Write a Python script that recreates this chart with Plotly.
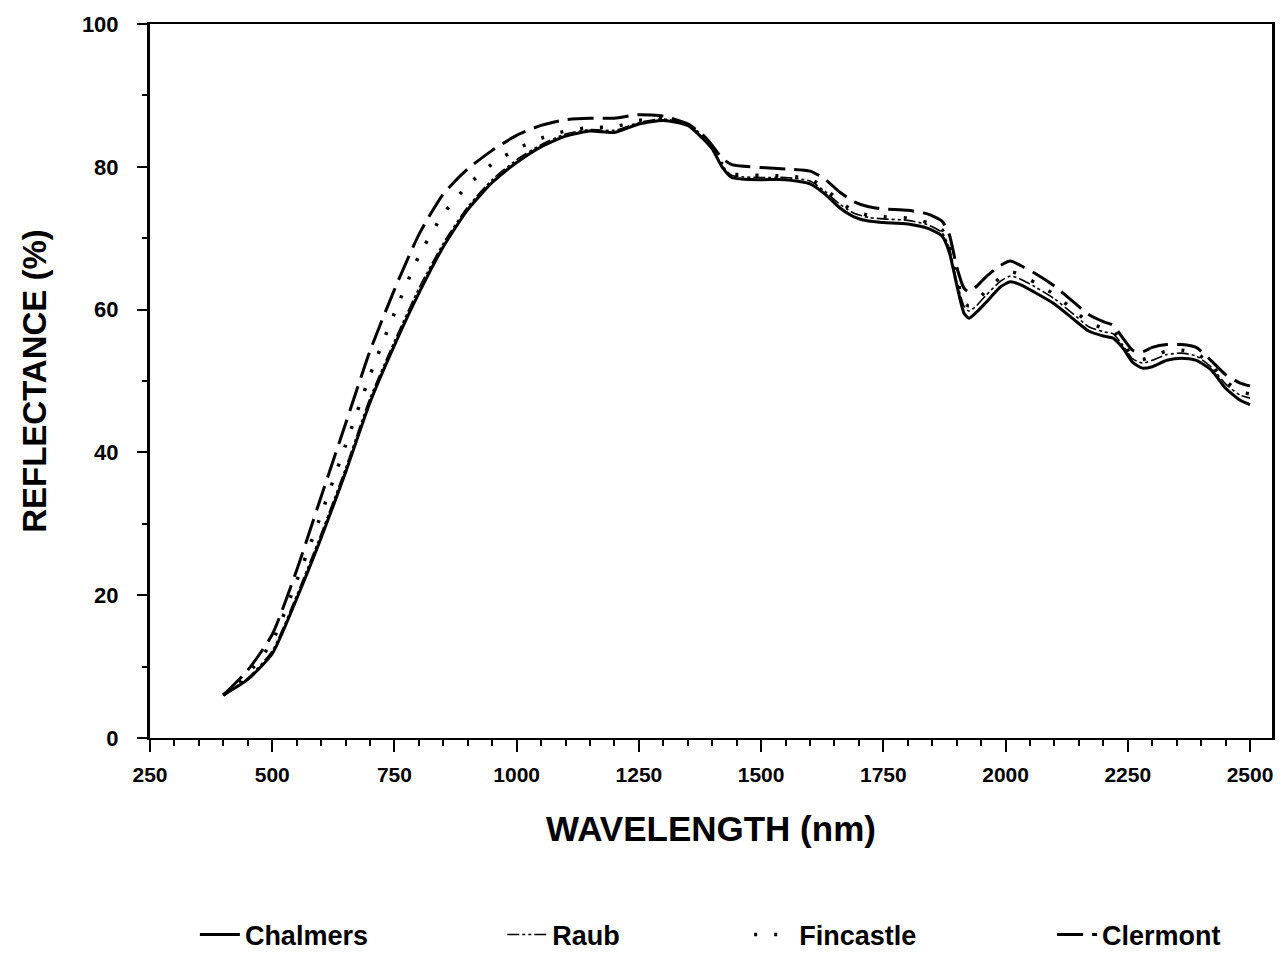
import plotly.graph_objects as go

wavelength = [400, 450, 500, 550, 600, 650, 700, 750, 800, 850, 900, 950, 1000, 1050, 1100,
              1150, 1200, 1250, 1300, 1350, 1380, 1400, 1420, 1440, 1460, 1500, 1550, 1600,
              1630, 1660, 1690, 1720, 1750, 1800, 1840, 1870, 1885, 1900, 1915, 1925, 1940,
              1960, 1990, 2010, 2030, 2060, 2100, 2140, 2170, 2200, 2220, 2240, 2260, 2280,
              2300, 2330, 2360, 2390, 2420, 2450, 2480, 2500]

chalmers = [6.0, 8.2, 11.8, 19.5, 28.0, 37.2, 47.0, 55.0, 62.3, 68.8, 74.0, 77.8, 80.6, 82.8, 84.3,
            85.0, 84.8, 86.0, 86.5, 85.8, 84.0, 82.5, 80.0, 78.5, 78.3, 78.2, 78.2, 77.6,
            76.2, 74.3, 73.0, 72.4, 72.2, 72.0, 71.4, 70.3, 68.0, 63.5, 59.5, 58.8, 59.6,
            61.0, 63.2, 63.9, 63.5, 62.4, 60.8, 58.6, 57.0, 56.3, 56.0, 54.6, 52.6, 51.8,
            52.0, 52.9, 53.2, 52.9, 51.6, 49.0, 47.3, 46.7]

raub = [6.0, 8.4, 12.2, 20.0, 28.6, 37.8, 47.6, 55.6, 63.0, 69.3, 74.4, 78.2, 81.0, 83.1, 84.6,
        85.2, 85.1, 86.2, 86.7, 85.9, 84.1, 82.6, 80.2, 78.8, 78.6, 78.5, 78.5, 78.0,
        76.6, 74.8, 73.5, 72.9, 72.7, 72.5, 71.9, 70.8, 68.6, 64.0, 60.5, 59.8, 60.5,
        62.0, 64.0, 64.7, 64.3, 63.2, 61.5, 59.3, 57.6, 56.9, 56.6, 55.0, 53.1, 52.5,
        52.9, 53.7, 53.9, 53.5, 52.0, 49.6, 48.0, 47.6]

fincastle = [6.0, 9.0, 13.5, 22.0, 31.3, 41.0, 50.8, 59.5, 67.5, 73.4, 77.4, 80.4, 82.5, 84.0, 85.0,
             85.5, 85.6, 86.5, 86.8, 85.9, 84.2, 82.7, 80.4, 79.0, 78.9, 78.8, 78.7, 78.3,
             77.0, 75.2, 73.8, 73.2, 73.0, 72.8, 72.2, 71.2, 69.0, 64.5, 61.0, 60.5, 61.2,
             62.6, 64.5, 65.3, 64.9, 63.8, 62.1, 59.9, 58.2, 57.4, 57.0, 55.3, 53.5, 53.0,
             53.5, 54.2, 54.3, 53.9, 52.3, 50.0, 48.5, 48.2]

clermont = [6.0, 9.5, 14.5, 23.5, 33.8, 44.0, 54.2, 62.8, 70.5, 76.2, 79.7, 82.3, 84.4, 85.8, 86.6,
            86.8, 86.8, 87.3, 87.1, 86.0, 84.5, 83.0, 81.2, 80.3, 80.1, 79.9, 79.7, 79.4,
            78.3, 76.5, 75.1, 74.4, 74.1, 73.9, 73.4, 72.4, 70.5, 66.0, 63.0, 62.5, 63.2,
            64.6, 66.2, 66.8, 66.2, 65.1, 63.3, 61.0, 59.3, 58.3, 57.8, 56.0, 54.3, 54.1,
            54.7, 55.1, 55.1, 54.7, 52.9, 50.9, 49.7, 49.3]

names = ["Chalmers", "Raub", "Fincastle", "Clermont"]
series = [chalmers, raub, fincastle, clermont]
styles = [
    dict(width=3, dash="solid"),
    dict(width=1.6, dash="12px,3px,3px,3px,3px,3px"),
    dict(width=3.5, dash="3px,17px"),
    dict(width=3, dash="26px,9px"),
]
legend_ids = ["legend", "legend2", "legend3", "legend4"]
legend_x = [0.040, 0.314, 0.534, 0.804]

fig = go.Figure()
for name, vals, st, lid in zip(names, series, styles, legend_ids):
    fig.add_trace(go.Scatter(
        x=wavelength, y=vals, mode="lines", name=name,
        line=dict(color="black", width=st["width"], dash=st["dash"], shape="spline", smoothing=0.6),
        legend=lid, showlegend=True,
    ))

font_main = "Liberation Sans"
legend_font = dict(family=font_main, size=27, color="black", weight="bold")
legends = {}
for lid, lx in zip(legend_ids, legend_x):
    legends[lid] = dict(x=lx, xref="paper", y=(953 - 935) / 953, yref="container",
                        xanchor="left", yanchor="middle",
                        font=legend_font, bgcolor="rgba(0,0,0,0)", itemwidth=40,
                        orientation="h", tracegroupgap=0)

xr = [250, 2545]
yr = [0, 100]

fig.update_layout(
    width=1287, height=953,
    margin=dict(l=150, r=15, t=24, b=215),
    paper_bgcolor="white", plot_bgcolor="white",
    font=dict(family=font_main, color="black"),
    xaxis=dict(
        range=xr, showgrid=False, zeroline=False,
        showline=True, linecolor="black", linewidth=2, mirror=True,
        tick0=250, dtick=250, ticks="outside", ticklen=12, tickwidth=2, tickcolor="black",
        minor=dict(dtick=50, ticks="outside", ticklen=6, tickwidth=2, tickcolor="black"),
        tickfont=dict(family=font_main, size=21, color="black", weight="bold"),
        ticklabelstandoff=5,
        title=dict(text="<b>WAVELENGTH (nm)</b>", font=dict(family=font_main, size=35, color="black"),
                   standoff=31),
    ),
    yaxis=dict(
        range=yr, showgrid=False, zeroline=False,
        showline=True, linecolor="black", linewidth=3, mirror=True,
        tick0=0, dtick=20, ticks="outside", ticklen=10, tickwidth=2, tickcolor="black",
        minor=dict(dtick=10, ticks="outside", ticklen=5, tickwidth=2, tickcolor="black"),
        tickfont=dict(family=font_main, size=22, color="black", weight="bold"),
        ticklabelstandoff=14,
        title=dict(text="<b>REFLECTANCE (%)</b>", font=dict(family=font_main, size=33, color="black"),
                   standoff=26),
    ),
    xaxis2=dict(
        range=xr, overlaying="x", anchor="y", side="bottom", showgrid=False, zeroline=False,
        showline=False, showticklabels=False,
        tick0=250, dtick=250, ticks="inside", ticklen=12, tickwidth=2, tickcolor="black",
        minor=dict(dtick=50, ticks="inside", ticklen=6, tickwidth=2, tickcolor="black"),
    ),
    yaxis2=dict(
        range=yr, overlaying="y", anchor="x", side="left", showgrid=False, zeroline=False,
        showline=False, showticklabels=False,
        tick0=0, dtick=20, ticks="inside", ticklen=10, tickwidth=2, tickcolor="black",
        minor=dict(dtick=10, ticks="inside", ticklen=5, tickwidth=2, tickcolor="black"),
    ),
    **legends,
)

fig.write_html("out.html", config={"displayModeBar": False},
               post_script="document.body.style.margin='0';")
